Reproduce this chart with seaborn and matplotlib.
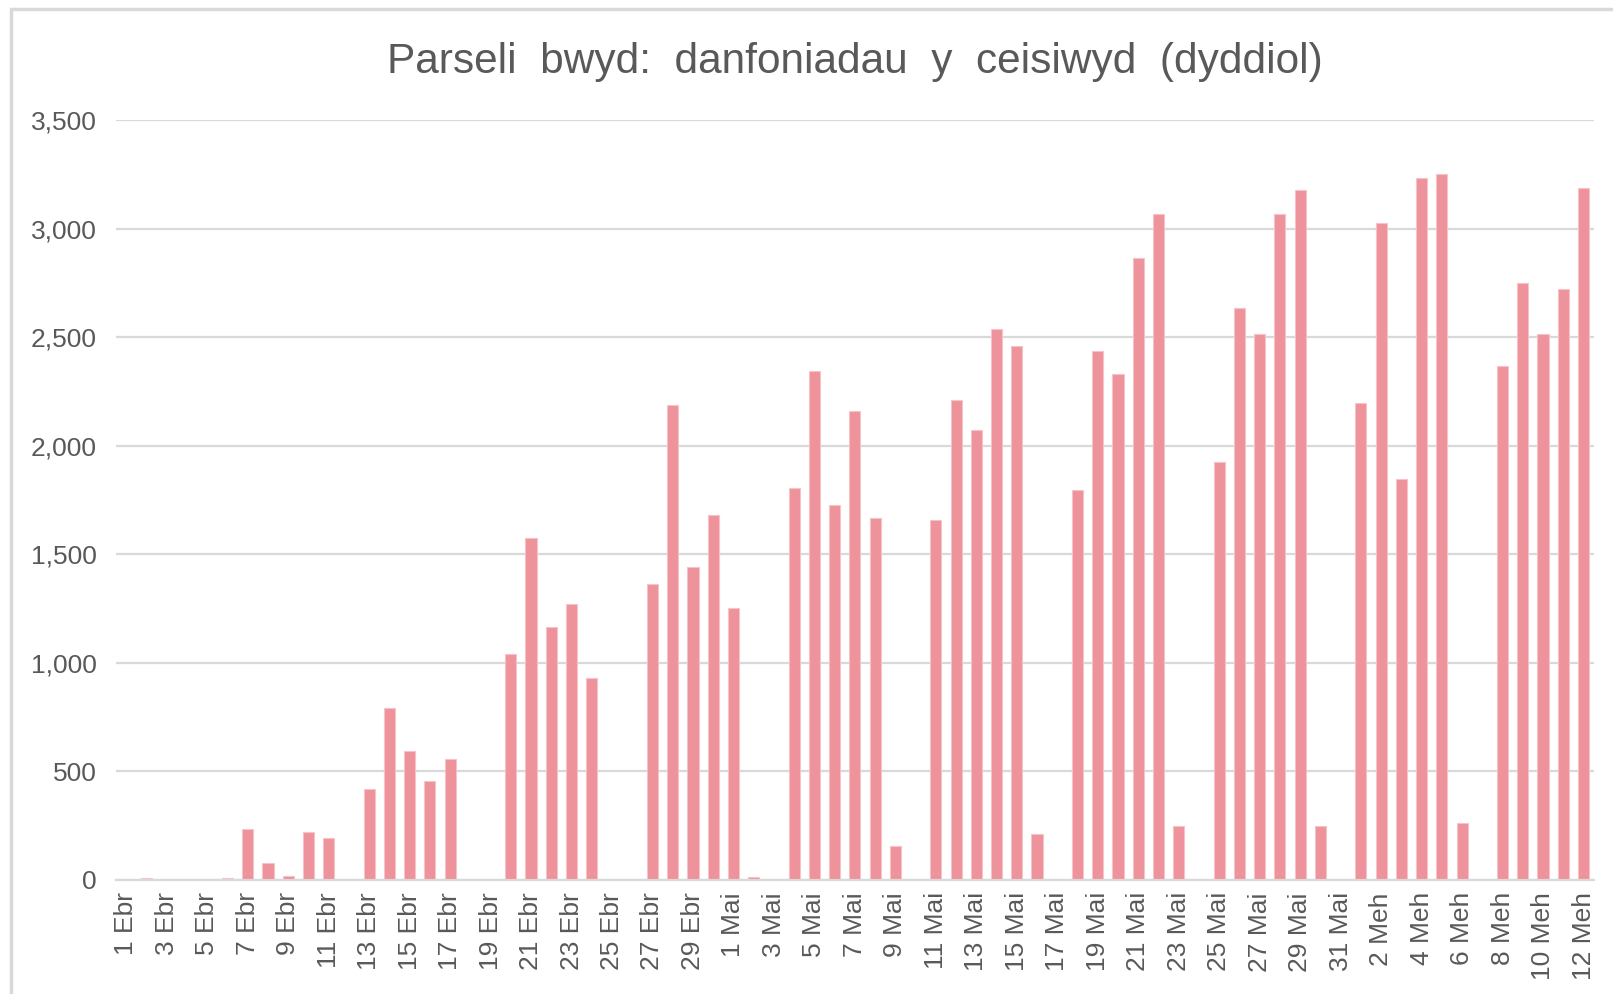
import pandas as pd
import matplotlib
matplotlib.use("Agg")
import matplotlib.pyplot as plt
import seaborn as sns
from matplotlib.patches import Rectangle
from matplotlib.ticker import FuncFormatter

# Misoedd a nifer y dyddiau ym mhob un
months = ["Ebr", "Mai", "Meh"]
month_days = [30, 31, 12]

# Parseli bwyd y dydd (1 Ebr - 12 Meh)
ebrill = [0, 10, 0, 0, 0, 10, 233, 78, 15, 219,
          193, 0, 416, 792, 592, 454, 557, 0, 0, 1041,
          1577, 1164, 1272, 928, 0, 0, 1361, 2186, 1443, 1681]
mai = [1253, 12, 0, 1803, 2343, 1725, 2158, 1667, 153, 0,
       1660, 2210, 2071, 2539, 2459, 212, 0, 1794, 2438, 2329,
       2863, 3067, 249, 0, 1927, 2633, 2517, 3067, 3180, 249,
       0]
mehefin = [2198, 3027, 1848, 3234, 3251, 261, 0, 2369, 2748, 2517,
           2722, 3187]

title = "Parseli  bwyd:  danfoniadau  y  ceisiwyd  (dyddiol)"
y_ticks = [0, 500, 1000, 1500, 2000, 2500, 3000, 3500]


def build_frame() -> pd.DataFrame:
    labels = [f"{d} {m}" for m, n in zip(months, month_days) for d in range(1, n + 1)]
    values = ebrill + mai + mehefin
    return pd.DataFrame({"Dyddiad": labels, "Parseli": values})


def main():
    df = build_frame()
    sns.set_style("white")
    plt.rcParams["font.family"] = ["Liberation Sans", "DejaVu Sans"]
    text_col = "#595959"

    fig = plt.figure(figsize=(16.13, 9.94), dpi=100)
    ax = fig.add_axes([0.072, 0.115, 0.916, 0.764])

    sns.barplot(data=df, x="Dyddiad", y="Parseli", color="#EE929B",
                saturation=1, width=0.55, edgecolor="#F6C3C8", linewidth=0.8, ax=ax)

    ax.set_ylim(0, 3500)
    ax.set_xlim(-0.5, len(df) - 0.5)
    ax.set_yticks(y_ticks)
    ax.yaxis.set_major_formatter(FuncFormatter(lambda v, p: f"{int(v):,}"))
    ax.grid(axis="y", color="#D9D9D9", linewidth=1.6)
    ax.set_axisbelow(True)

    pos = list(range(0, len(df), 2))
    ax.set_xticks(pos)
    ax.set_xticklabels(df["Dyddiad"].iloc[pos], rotation=90)
    ax.tick_params(axis="both", length=0, labelsize=19, colors=text_col)
    ax.tick_params(axis="y", pad=14)
    ax.tick_params(axis="x", pad=9)
    ax.set_xlabel("")
    ax.set_ylabel("")

    for s in ["top", "right", "left"]:
        ax.spines[s].set_visible(False)
    ax.spines["bottom"].set_color("#D9D9D9")
    ax.spines["bottom"].set_linewidth(1.6)

    fig.text(0.53, 1 - 62 / 994, title, ha="center", va="center",
             fontsize=30.5, color=text_col)

    # ffin y siart
    fig.patches.append(Rectangle((11 / 1613, -0.1), 1.2, 1 - 9 / 994 + 0.1,
                                 transform=fig.transFigure, fill=False,
                                 edgecolor="#D9D9D9", linewidth=2.5))

    fig.savefig("out.png", dpi=100)
    plt.close(fig)


if __name__ == "__main__":
    main()
